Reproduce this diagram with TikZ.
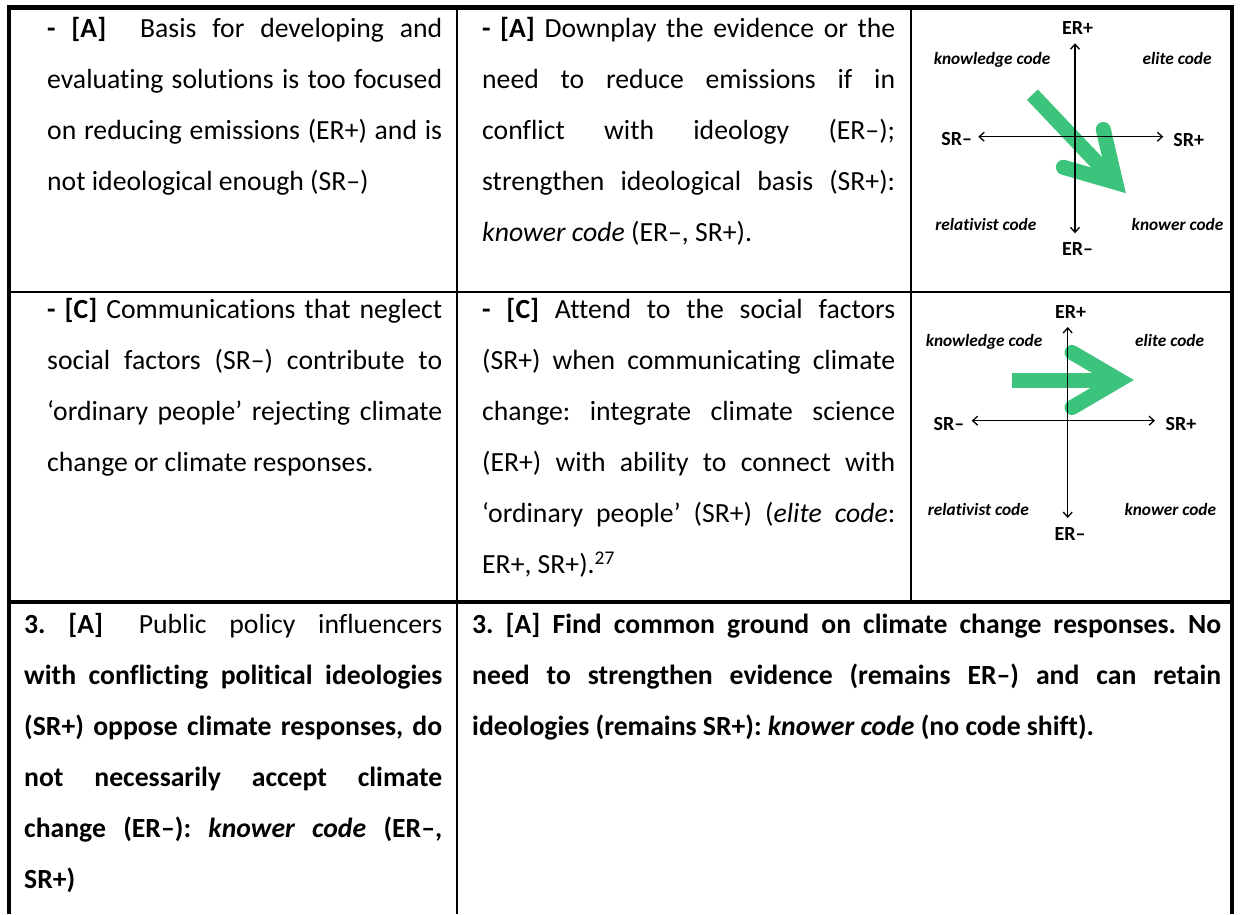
\documentclass[tikz,border=0pt]{standalone}
\usepackage{fontspec}
\setmainfont{Carlito}[Ligatures={NoCommon}]
\usetikzlibrary{arrows.meta}

\definecolor{shiftgreen}{RGB}{61,196,124}

% justified lines of fixed width, set one by one
\newlength\cellw
\newcommand\jline[1]{\hbox to\cellw{#1}}
\newcommand\lline[1]{\hbox to\cellw{#1\hfil}}
\newcommand\cellpar[2]{\setlength\cellw{#1pt}\vtop{\baselineskip=51pt\lineskiplimit=-100pt\lineskip=0pt #2}}

\newcommand\bodyfont{\fontsize{27.7pt}{51pt}\selectfont\frenchspacing}
\newcommand\labfont{\fontsize{17.3pt}{20pt}\selectfont\bfseries}
\newcommand\axfont{\fontsize{20pt}{22pt}\selectfont\bfseries}

% thick green arrow: tip, direction, shaft length
\newcommand\codeshift[3]{%
  \begin{scope}[shift={#1},rotate=#2]
    \draw[shiftgreen,line width=15pt] (-#3,0) -- (-15,0);
    \draw[shiftgreen,line width=15pt,line cap=round,line join=miter]
      (-62,27.5) -- (-15,0) -- (-62,-27.5);
  \end{scope}}

\tikzset{
  body/.style={font=\bodyfont, inner sep=0pt, anchor=base west},
  axislab/.style={font=\axfont, inner sep=0pt, anchor=base},
  codelab/.style={font=\labfont\itshape, inner sep=0pt, anchor=base},
  axisline/.style={line width=1.3pt, {Straight Barb[length=5pt,width=9pt]}-{Straight Barb[length=5pt,width=9pt]}},
  thickrule/.style={line width=4.5pt},
  thinrule/.style={line width=2pt},
}

\begin{document}
\begin{tikzpicture}[x=1pt,y=-1pt]
\useasboundingbox (0,0) rectangle (1240,914);

% ---------- table rules ----------
\draw[thickrule] (6.75,7.5) -- (1234.25,7.5);
\draw[thickrule] (9,5.25) -- (9,914);
\draw[thickrule] (1232,5.25) -- (1232,914);
\draw[thinrule] (9,292) -- (1232,292);
\draw[thickrule] (9,602) -- (1232,602);
\draw[thinrule] (457,7.5) -- (457,914);
\draw[thinrule] (911,7.5) -- (911,602);

% ---------- row 1 ----------
\node[body] (r1a) at (47,37) {\cellpar{395}{%
  \jline{\textbf{-} \textbf{[A]}\hskip 18pt\ Basis for developing and}%
  \jline{evaluating solutions is too focused}%
  \jline{on reducing emissions (ER+) and is}%
  \lline{not ideological enough (SR–)}}};

\node[body] (r1b) at (482,37) {\cellpar{413}{%
  \jline{\textbf{-} \textbf{[A]} Downplay the evidence or the}%
  \jline{need to reduce emissions if in}%
  \jline{conflict with ideology (ER–);}%
  \jline{strengthen ideological basis (SR+):}%
  \lline{\textit{knower code} (ER–, SR+).}}};

% ---------- row 2 ----------
\node[body] (r2a) at (47,318.5) {\cellpar{395}{%
  \jline{\textbf{-} \textbf{[C]} Communications that neglect}%
  \jline{social factors (SR–) contribute to}%
  \jline{‘ordinary people’ rejecting climate}%
  \lline{change or climate responses.}}};

\node[body] (r2b) at (482,318.5) {\cellpar{413}{%
  \jline{\textbf{-} \textbf{[C]} Attend to the social factors}%
  \jline{(SR+) when communicating climate}%
  \jline{change: integrate climate science}%
  \jline{(ER+) with ability to connect with}%
  \jline{‘ordinary people’ (SR+) (\textit{elite code}:}%
  \lline{ER+, SR+).\textsuperscript{27}}}};

% ---------- row 3 ----------
\node[body] (r3a) at (24,633) {\cellpar{418}{%
  \jline{\textbf{3. [A]}\hskip 13pt\ Public policy influencers}%
  \jline{\bfseries with conflicting political ideologies}%
  \jline{\bfseries (SR+) oppose climate responses, do}%
  \jline{\bfseries not necessarily accept climate}%
  \jline{\bfseries change (ER–): \textit{knower code} (ER–,}%
  \lline{\bfseries SR+)}}};

\node[body] (r3b) at (472,633) {\cellpar{749}{%
  \jline{\bfseries 3. [A] Find common ground on climate change responses. No}%
  \jline{\bfseries need to strengthen evidence (remains ER–) and can retain}%
  \lline{\bfseries ideologies (remains SR+): \textit{knower code} (no code shift).}}};

% ---------- code plane, row 1 ----------
\codeshift{(1126,193.3)}{-46.5}{136}
\coordinate (d1n) at (1075,43.3);
\coordinate (d1s) at (1075,233.3);
\coordinate (d1w) at (978.3,136.7);
\coordinate (d1e) at (1163.3,136.7);
\draw[axisline] (d1s) -- (d1n);
\draw[axisline] (d1w) -- (d1e);
\node[axislab] (d1er) at (1077.5,34.3) {ER+};
\node[axislab] (d1el) at (1077.5,255) {ER–};
\node[axislab] (d1sl) at (956.8,145.7) {SR–};
\node[axislab] (d1sr) at (1188.8,146.5) {SR+};
\node[codelab] (d1k) at (992,64) {knowledge code};
\node[codelab] (d1e2) at (1177,64) {elite code};
\node[codelab] (d1r) at (985.8,230) {relativist code};
\node[codelab] (d1kn) at (1177.5,230) {knower code};

% ---------- code plane, row 2 ----------
\codeshift{(1134,380)}{0}{122.3}
\coordinate (d2n) at (1067.7,327);
\coordinate (d2s) at (1067.7,518);
\coordinate (d2w) at (971.7,420.7);
\coordinate (d2e) at (1155,420.7);
\draw[axisline] (d2s) -- (d2n);
\draw[axisline] (d2w) -- (d2e);
\node[axislab] (d2er) at (1070.7,318.3) {ER+};
\node[axislab] (d2el) at (1070,540.7) {ER–};
\node[axislab] (d2sl) at (949,430) {SR–};
\node[axislab] (d2sr) at (1181,430) {SR+};
\node[codelab] (d2k) at (984,346.7) {knowledge code};
\node[codelab] (d2e2) at (1169.5,346.7) {elite code};
\node[codelab] (d2r) at (978.3,515) {relativist code};
\node[codelab] (d2kn) at (1170.3,515) {knower code};
\end{tikzpicture}
\end{document}
